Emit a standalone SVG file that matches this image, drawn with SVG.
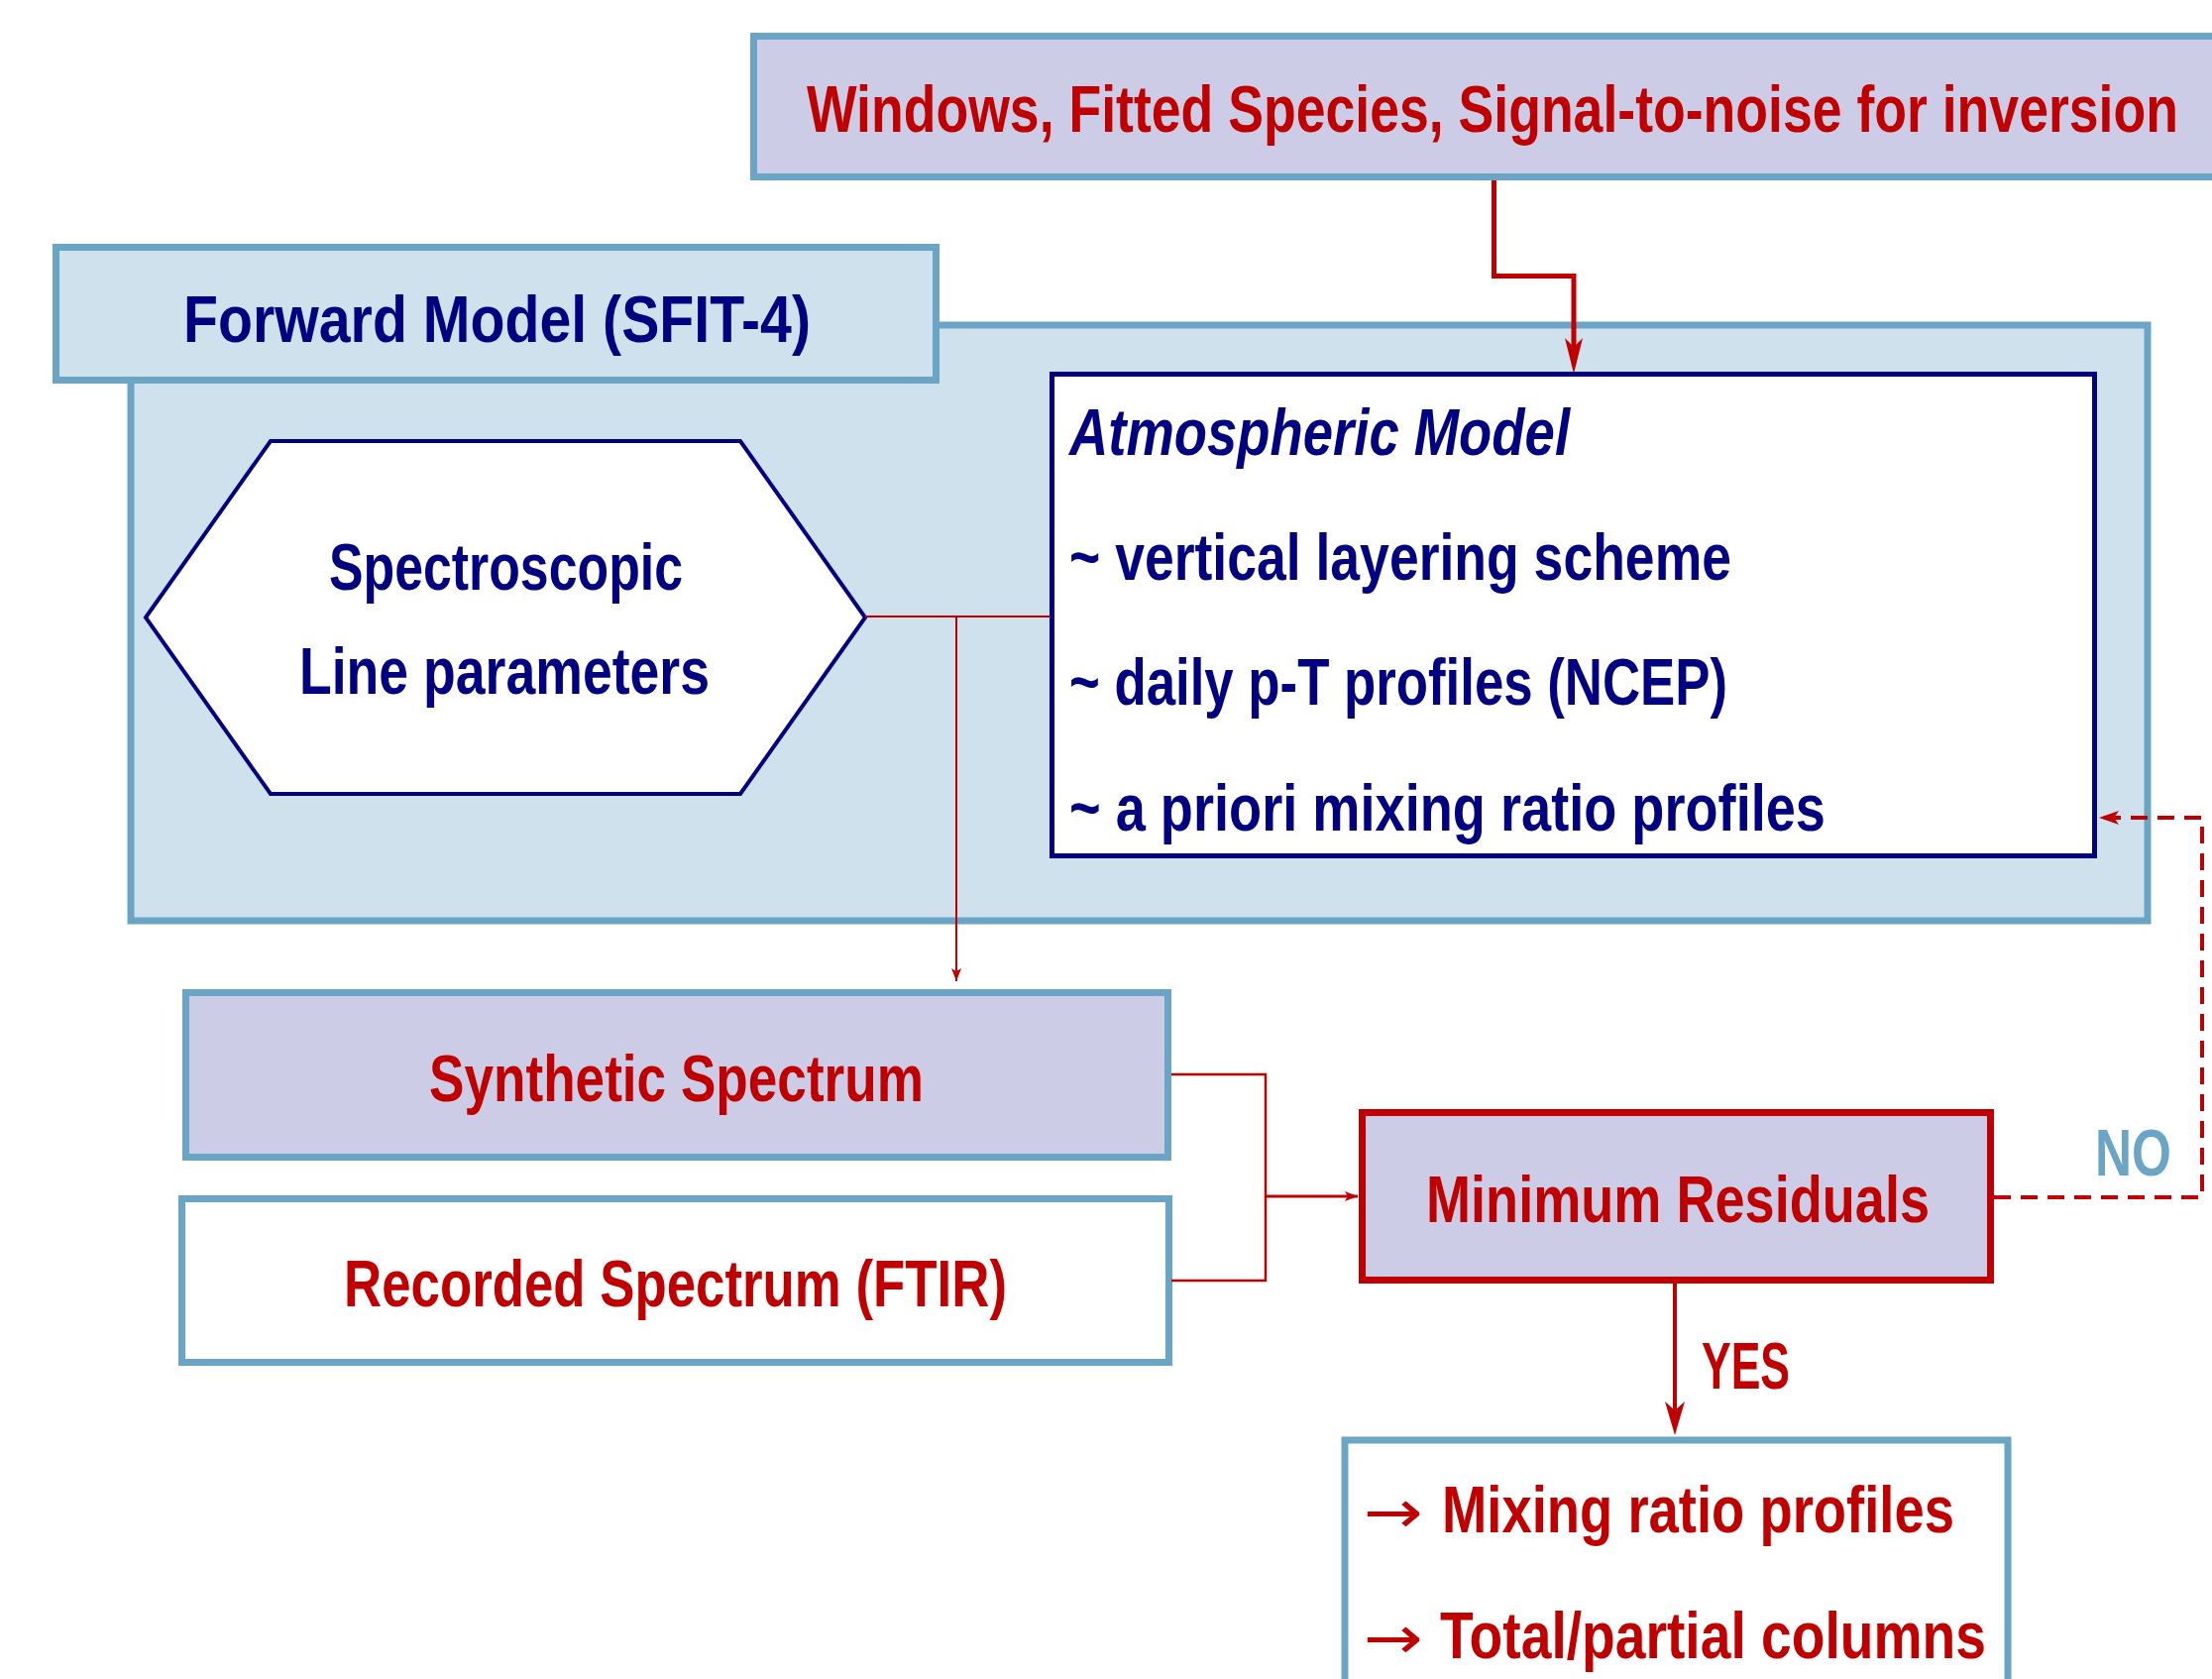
<svg xmlns="http://www.w3.org/2000/svg" width="2232" height="1694" viewBox="0 0 2232 1694">
<style>
.t{font-family:"Liberation Sans",Arial,sans-serif;font-weight:bold;font-size:66px}
.red{fill:#C00000}.navy{fill:#000080}.blue{fill:#6AA5C6}
.bluebox{stroke:#6AA5C6;stroke-width:7}
.lav{fill:#CCCCE6}.lb{fill:#CEE1EC}.wh{fill:#FFFFFF}
.c{fill:none;stroke:#C00000}
.ar{font-family:"DejaVu Sans",sans-serif;font-size:60px;fill:#C00000}
</style>
<defs>
<marker id="big" markerUnits="userSpaceOnUse" markerWidth="36" markerHeight="18" viewBox="0 0 36 18" refX="12" refY="9" orient="auto">
<path d="M0,0 L36,9 L0,18 L9,9 z" fill="#C00000"/>
</marker>
<marker id="yes" markerUnits="userSpaceOnUse" markerWidth="34" markerHeight="20" viewBox="0 0 34 20" refX="12" refY="10" orient="auto">
<path d="M0,0 L34,10 L0,20 L9,10 z" fill="#C00000"/>
</marker>
<marker id="small" markerUnits="userSpaceOnUse" markerWidth="13" markerHeight="10" viewBox="0 0 13 10" refX="13" refY="5" orient="auto">
<path d="M0,0 L13,5 L0,10 L3,5 z" fill="#C00000"/>
</marker>
<marker id="dash" markerUnits="userSpaceOnUse" markerWidth="20" markerHeight="14" viewBox="0 0 20 14" refX="20" refY="7" orient="auto">
<path d="M0,0 L20,7 L0,14 L5,7 z" fill="#C00000"/>
</marker>
</defs>

<g id="forward-model-container">
<rect x="132" y="328" width="2035" height="601" class="lb bluebox" stroke-width="6"/>
</g>

<g id="windows-box">
<rect x="760.5" y="36.5" width="1476" height="142" class="lav bluebox"/>
<text transform="translate(814,133) scale(0.812,1)" x="0" y="0" class="t red">Windows, Fitted Species, Signal-to-noise for inversion</text>
</g>

<g id="forward-model-header">
<rect x="56.5" y="249.5" width="888" height="134" class="lb bluebox"/>
<text x="185" y="345" class="t navy" textLength="633" lengthAdjust="spacingAndGlyphs">Forward Model (SFIT-4)</text>
</g>

<g id="spectroscopic">
<polygon points="147,623 273,445 747,445 873,623 747,801 273,801" fill="#FFFFFF" stroke="#000080" stroke-width="4"/>
<text x="332" y="595" class="t navy" textLength="357" lengthAdjust="spacingAndGlyphs">Spectroscopic</text>
<text x="302" y="700" class="t navy" textLength="414" lengthAdjust="spacingAndGlyphs">Line parameters</text>
</g>

<g id="atmospheric-model">
<rect x="1061.5" y="377.5" width="1052" height="486" fill="#FFFFFF" stroke="#000080" stroke-width="5"/>
<text x="1079" y="459" class="t navy" font-style="italic" textLength="505" lengthAdjust="spacingAndGlyphs">Atmospheric Model</text>
<text x="1079" y="585" class="t navy" textLength="668" lengthAdjust="spacingAndGlyphs">~ vertical layering scheme</text>
<text x="1079" y="711" class="t navy" textLength="664" lengthAdjust="spacingAndGlyphs">~ daily p-T profiles (NCEP)</text>
<text x="1079" y="838" class="t navy" textLength="763" lengthAdjust="spacingAndGlyphs">~ a priori mixing ratio profiles</text>
</g>

<g id="synthetic-spectrum">
<rect x="187.5" y="1001.5" width="991" height="166" class="lav bluebox"/>
<text x="433" y="1111" class="t red" textLength="499" lengthAdjust="spacingAndGlyphs">Synthetic Spectrum</text>
</g>

<g id="recorded-spectrum">
<rect x="183.5" y="1209.5" width="996" height="165" class="wh bluebox"/>
<text x="347" y="1318" class="t red" textLength="669" lengthAdjust="spacingAndGlyphs">Recorded Spectrum (FTIR)</text>
</g>

<g id="minimum-residuals">
<rect x="1374.5" y="1122.5" width="634" height="169" class="lav" stroke="#C00000" stroke-width="7"/>
<text x="1439" y="1233" class="t red" textLength="508" lengthAdjust="spacingAndGlyphs">Minimum Residuals</text>
</g>

<g id="results">
<rect x="1357" y="1453" width="669" height="320" class="wh bluebox" stroke-width="6"/>
<text x="1376" y="1546" class="ar" textLength="60" lengthAdjust="spacingAndGlyphs">→</text>
<text x="1455" y="1546" class="t red" textLength="517" lengthAdjust="spacingAndGlyphs">Mixing ratio profiles</text>
<text x="1376" y="1673" class="ar" textLength="60" lengthAdjust="spacingAndGlyphs">→</text>
<text x="1453" y="1673" class="t red" textLength="551" lengthAdjust="spacingAndGlyphs">Total/partial columns</text>
</g>

<g id="connectors">
<path d="M1507.5,182 V278.5 H1588 V353" class="c" stroke-width="5" marker-end="url(#big)"/>
<path d="M873,622 H1060" class="c" stroke-width="2"/>
<path d="M965,622 V990" class="c" stroke-width="2" marker-end="url(#small)"/>
<path d="M1182,1084 H1277 V1292 H1182" class="c" stroke-width="2.5"/>
<path d="M1277,1207 H1370" class="c" stroke-width="3" marker-end="url(#small)"/>
<path d="M2012,1208 H2222 V825 H2118" class="c" stroke-width="4" stroke-dasharray="17 10" marker-end="url(#dash)"/>
<path d="M1690,1295 V1426" class="c" stroke-width="4" marker-end="url(#yes)"/>
<text x="2114" y="1186" class="t blue" textLength="77" lengthAdjust="spacingAndGlyphs">NO</text>
<text x="1717" y="1401" class="t red" textLength="89" lengthAdjust="spacingAndGlyphs">YES</text>
</g>
</svg>
